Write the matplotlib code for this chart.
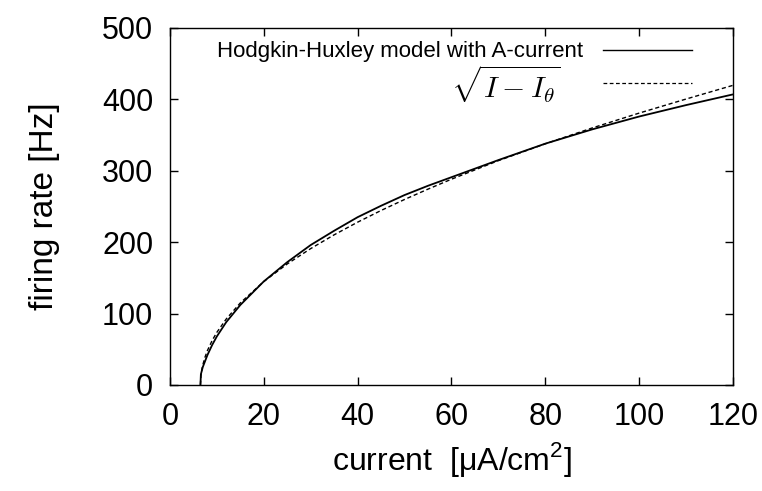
import numpy as np
import matplotlib
matplotlib.use("Agg")
import matplotlib.pyplot as plt

plt.rcParams['font.family'] = ['Liberation Sans', 'DejaVu Sans']

# values
current_hh = [6.5, 6.6, 7, 8, 9, 10, 12, 15, 20, 25, 30, 35, 40, 45, 50, 55, 60, 70, 80, 90, 100, 110, 120]
rate_hh = [0, 15, 25, 42, 56, 68, 88, 112, 145, 172, 196, 216, 235, 251, 266, 279, 291, 315, 338, 358, 376, 392, 407]

current_fit = [6.5, 6.6, 6.8, 7, 7.5, 8, 9, 10, 12, 15, 20, 25, 30, 35, 40, 45, 50, 55, 60, 70, 80, 90, 100, 110, 120]
rate_fit = [0, 12.5, 21.6, 27.9, 39.4, 48.3, 62.3, 73.7, 92.4, 114.9, 144.8, 169.5, 191.0, 210.3, 228.0, 244.4, 259.8, 274.3, 288.2, 314.2, 337.8, 360.0, 380.8, 400.5, 419.7]

xticks = [0, 20, 40, 60, 80, 100, 120]
yticks = [0, 100, 200, 300, 400, 500]

fig = plt.figure(figsize=(7.62, 4.91), dpi=100)
ax = fig.add_axes([0.223, 0.216, 0.739, 0.727])

ax.plot(current_hh, rate_hh, color='black', lw=1.3, solid_capstyle='butt')
ax.plot(current_fit, rate_fit, color='black', lw=1.0, ls=(0, (3, 2)))

ax.set_xlim(0, 120)
ax.set_ylim(0, 500)
ax.set_xticks(xticks)
ax.set_yticks(yticks)
ax.tick_params(direction='in', length=6, width=1, top=True, right=True,
               labelsize=22, pad=12)
for s in ax.spines.values():
    s.set_linewidth(1.0)

ax.set_xlabel(r'current  [$\mathregular{\mu}$A/cm$^\mathregular{2}$]', fontsize=23, labelpad=6)
ax.set_ylabel('firing rate [Hz]', fontsize=24, labelpad=30)

# key, gnuplot style (text right aligned, sample on the right)
ax.text(0.734, 0.933, 'Hodgkin-Huxley model with A-current', transform=ax.transAxes,
        ha='right', va='center', fontsize=16)
ax.plot([0.769, 0.927], [0.938, 0.938], transform=ax.transAxes, color='black', lw=1.0)
ax.text(0.693, 0.840, r'$\sqrt{I-I_\theta}$', transform=ax.transAxes,
        ha='right', va='center', fontsize=21.5, math_fontfamily='cm')
ax.plot([0.769, 0.927], [0.846, 0.846], transform=ax.transAxes, color='black', lw=0.9,
        ls=(0, (3, 2)))

fig.savefig('out.png', dpi=100)
